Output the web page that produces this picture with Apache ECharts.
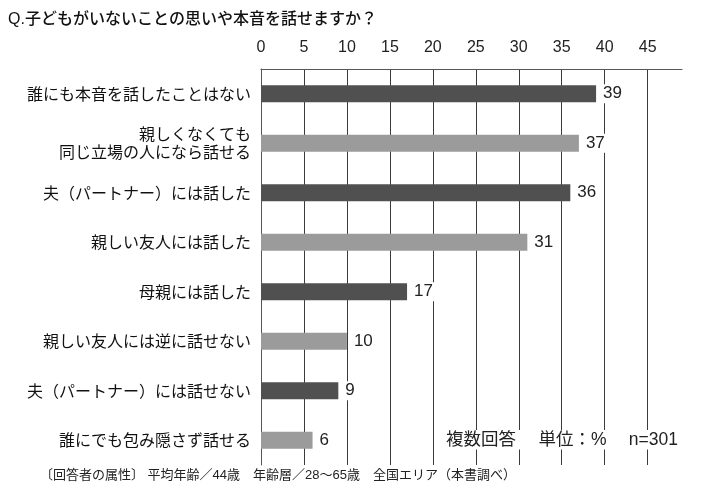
<!DOCTYPE html>
<html>
<head>
<meta charset="utf-8">
<script src="https://cdn.jsdelivr.net/npm/echarts@6/dist/echarts.min.js"></script>
<style>html,body{margin:0;padding:0;background:#fff}#main{width:704px;height:500px}</style>
</head>
<body>
<div id="main"></div>
<script>
var titleText = 'Q.子どもがいないことの思いや本音を話せますか？';
var noteText = '複数回答　 単位：%　 n=301';
var footerText = '〔回答者の属性〕 平均年齢／44歳　年齢層／28～65歳　全国エリア（本書調べ）';
var categories = [
  '誰にも本音を話したことはない',
  '親しくなくても\n同じ立場の人になら話せる',
  '夫（パートナー）には話した',
  '親しい友人には話した',
  '母親には話した',
  '親しい友人には逆に話せない',
  '夫（パートナー）には話せない',
  '誰にでも包み隠さず話せる'
];
var values = [39, 37, 36, 31, 17, 10, 9, 6];
var barColors = ['#505050', '#9b9b9b', '#505050', '#9b9b9b', '#505050', '#9b9b9b', '#505050', '#9b9b9b'];
var axisMin = 0, axisMax = 49, axisStep = 5;

var cjk = '"Noto Sans CJK JP", "Noto Sans", sans-serif';
var latin = '"Liberation Sans", Arial, "Noto Sans CJK JP", sans-serif';

var chart = echarts.init(document.getElementById('main'));
chart.setOption({
  backgroundColor: '#fff',
  animation: false,
  title: [
    { text: titleText, left: 8, top: 12, padding: 0,
      textStyle: { fontFamily: latin, fontSize: 16, fontWeight: 500, color: '#111' } },
    { text: noteText, right: 23, top: 430, padding: [1, 3], backgroundColor: '#fff',
      textStyle: { fontFamily: latin, fontSize: 17.5, fontWeight: 'normal', color: '#222' } },
    { text: footerText, left: 40, top: 469, padding: 0,
      textStyle: { fontFamily: latin, fontSize: 13, fontWeight: 'normal', color: '#222' } }
  ],
  grid: { left: 261, right: 22, top: 69, bottom: 35, containLabel: false },
  xAxis: {
    type: 'value', position: 'top', min: axisMin, max: axisMax, interval: axisStep,
    axisLine: { show: true, lineStyle: { color: '#555', width: 1 } },
    axisTick: { show: false },
    axisLabel: { show: true, showMaxLabel: false, margin: 13, fontFamily: latin, fontSize: 16, color: '#222' },
    splitLine: { show: true, showMinLine: false, showMaxLine: false, lineStyle: { color: '#3a3a3a', width: 1 } }
  },
  yAxis: {
    type: 'category', data: categories, inverse: true,
    axisLine: { show: true, lineStyle: { color: '#555', width: 1 } },
    axisTick: { show: false },
    axisLabel: { margin: 10, fontFamily: cjk, fontSize: 16, lineHeight: 18, color: '#111', align: 'right' }
  },
  series: [{
    type: 'bar',
    data: values.map(function (v, i) { return { value: v, itemStyle: { color: barColors[i] } }; }),
    barWidth: 17,
    label: {
      show: true, position: 'right', distance: 4,
      fontFamily: latin, fontSize: 17, color: '#222',
      backgroundColor: '#fff', padding: [1, 3]
    }
  }]
});
</script>
</body>
</html>
